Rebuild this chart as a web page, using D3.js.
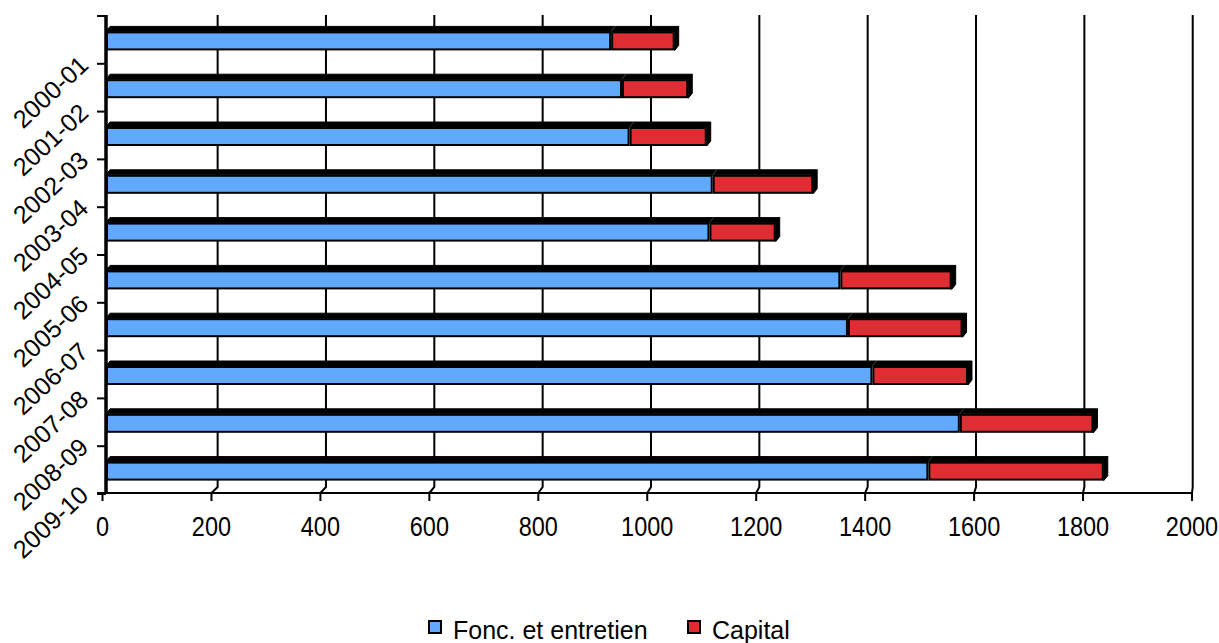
<!DOCTYPE html>
<html>
<head>
<meta charset="utf-8">
<script src="https://cdn.jsdelivr.net/npm/d3@7"></script>
<style>
  html, body { margin: 0; padding: 0; background: #ffffff; }
  svg { display: block; }
  text { font-family: "Liberation Sans", Arial, sans-serif; fill: #000; }
</style>
</head>
<body>
<svg id="chart" width="1219" height="643"></svg>
<script>
// Spending per fiscal year, split into operations/maintenance and capital
const categories = ["2000-01", "2001-02", "2002-03", "2003-04", "2004-05",
                    "2005-06", "2006-07", "2007-08", "2008-09", "2009-10"];
const fonctionnement = [930, 950, 964, 1117, 1111, 1352, 1366, 1411, 1572, 1514];
const capital = [117, 122, 142, 185, 122, 205, 211, 176, 246, 323];
const xTicks = [0, 200, 400, 600, 800, 1000, 1200, 1400, 1600, 1800, 2000];
const seriesNames = ["Fonc. et entretien", "Capital"];
const seriesColors = ["#61a9fd", "#de2e34"];

const svg = d3.select("#chart");
const xTickFont = 23.5;
const yTickFont = 25;
const legendFont = 25;

// Oblique 3D layout: front plane, back wall, and the plane of the bar faces
const xFront = d3.scaleLinear().domain([0, 2000]).range([102.5, 1192]);
const xBack = d3.scaleLinear().domain([0, 2000]).range([109.3, 1192.7]);
const xBar = d3.scaleLinear().domain([0, 2000]).range([106, 1192.3]);
const y = d3.scaleBand().domain(categories).range([16, 494]).padding(0);

const axisY = 493;      // front floor line
const wallBottom = 487; // back wall floor line
const wallTop = 15;
const depthX = 4, depthY = 5;
const faceH = 19;

// Back-wall gridlines with the short floor segment to the front tick
const grid = svg.append("g");
xTicks.forEach(t => {
  if (t === 0) return;
  grid.append("path")
    .attr("d", `M${xBack(t)},${wallTop} L${xBack(t)},${wallBottom} L${xFront(t)},${axisY}`)
    .attr("fill", "none").attr("stroke", "#000").attr("stroke-width", 2);
});

// Stacked 3D bars
const stackData = categories.map((c, i) => ({ cat: c, fonc: fonctionnement[i], cap: capital[i] }));
const stacked = d3.stack().keys(["fonc", "cap"])(stackData);

const bars = svg.append("g");
categories.forEach((c, i) => {
  const cy = y(c) + y.bandwidth() / 2 + 1;
  const top = cy - faceH / 2, bot = cy + faceH / 2;
  const x0 = xBar(0);
  const xEnd = xBar(stacked[1][i][1]);
  // top face
  bars.append("path")
    .attr("d", `M${x0},${top} L${x0 + depthX},${top - depthY} L${xEnd + depthX},${top - depthY} L${xEnd},${top} Z`)
    .attr("fill", "#000").attr("stroke", "#000").attr("stroke-width", 1);
  // right side face
  bars.append("path")
    .attr("d", `M${xEnd},${top} L${xEnd + depthX},${top - depthY} L${xEnd + depthX},${bot - depthY} L${xEnd},${bot} Z`)
    .attr("fill", "#000").attr("stroke", "#000").attr("stroke-width", 1);
  // divider edge on the top face
  const xMid = xBar(stacked[0][i][1]);
  bars.append("line")
    .attr("x1", xMid).attr("y1", top).attr("x2", xMid + depthX).attr("y2", top - depthY)
    .attr("stroke", "#555").attr("stroke-width", 0.8);
  // front faces
  stacked.forEach((s, k) => {
    const a = xBar(s[i][0]), b = xBar(s[i][1]);
    bars.append("rect")
      .attr("x", a + 1).attr("y", top + 1)
      .attr("width", Math.max(0, b - a - 2)).attr("height", faceH - 2)
      .attr("fill", seriesColors[k]).attr("stroke", "#000").attr("stroke-width", 2);
  });
});

// Value axis (front)
const ax = svg.append("g");
ax.append("line").attr("x1", 97).attr("x2", xFront(2000) + 1)
  .attr("y1", axisY).attr("y2", axisY).attr("stroke", "#000").attr("stroke-width", 2);
xTicks.forEach(t => {
  ax.append("line").attr("x1", xFront(t)).attr("x2", xFront(t))
    .attr("y1", axisY).attr("y2", axisY + 8).attr("stroke", "#000").attr("stroke-width", 2);
  ax.append("text")
    .attr("transform", `translate(${xFront(t)},536) scale(1,1.15)`)
    .attr("text-anchor", "middle").attr("font-size", xTickFont).text(t);
});

// Category axis
const cyAxis = svg.append("g");
cyAxis.append("line").attr("x1", 106).attr("x2", 106)
  .attr("y1", wallTop).attr("y2", axisY + 1).attr("stroke", "#000").attr("stroke-width", 3.5);
const yTicks = categories.map(c => y(c)).concat([y.range()[1]]);
yTicks.forEach(v => {
  cyAxis.append("line").attr("x1", 97).attr("x2", 106)
    .attr("y1", v).attr("y2", v).attr("stroke", "#000").attr("stroke-width", 2);
});
categories.forEach(c => {
  const cy = y(c) + y.bandwidth() / 2;
  cyAxis.append("text")
    .attr("text-anchor", "end").attr("font-size", yTickFont)
    .attr("transform", `translate(90,${cy + 27}) rotate(-43)`)
    .text(c);
});

// Legend
const legendItems = [
  { name: seriesNames[0], color: seriesColors[0], x: 428 },
  { name: seriesNames[1], color: seriesColors[1], x: 687 }
];
const lg = svg.append("g");
legendItems.forEach(d => {
  lg.append("rect").attr("x", d.x + 1).attr("y", 621).attr("width", 12).attr("height", 12)
    .attr("fill", d.color).attr("stroke", "#000").attr("stroke-width", 2);
  lg.append("text").attr("x", d.x + 25).attr("y", 638.5).attr("font-size", legendFont).text(d.name);
});
</script>
</body>
</html>
